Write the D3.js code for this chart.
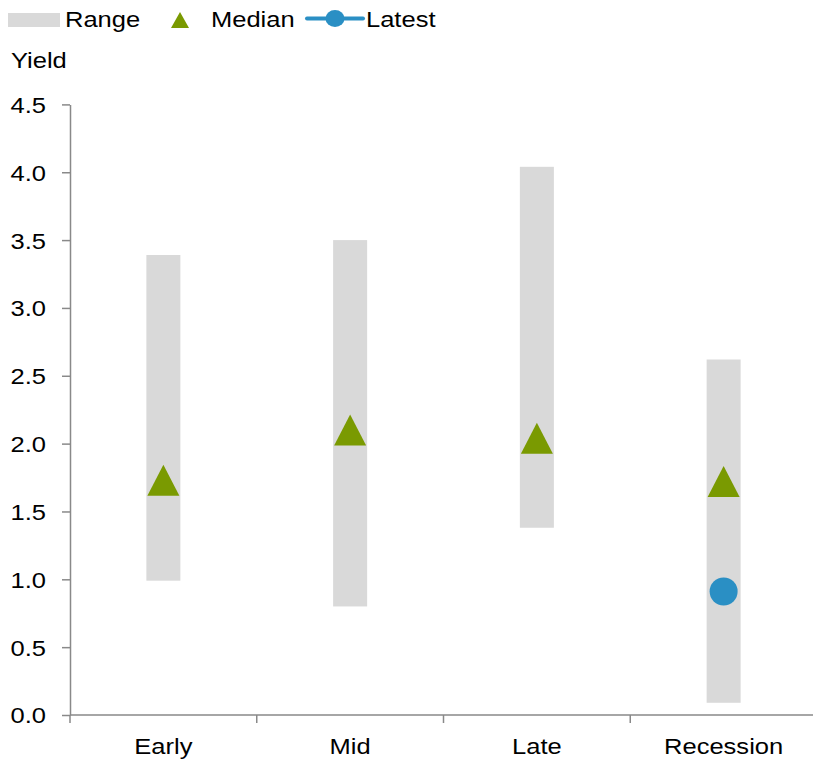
<!DOCTYPE html>
<html>
<head>
<meta charset="utf-8">
<script src="https://cdn.jsdelivr.net/npm/d3@7"></script>
<style>
  html, body { margin: 0; padding: 0; background: #fff; }
  svg { display: block; }
  text { font-family: "Liberation Sans", Arial, sans-serif; fill: #000; }
</style>
</head>
<body>
<svg id="chart" width="813" height="760"></svg>
<script>
// Yield by cycle phase: historical range, median and latest reading
const categories = ["Early", "Mid", "Late", "Recession"];
const rangeLow   = [0.99, 0.80, 1.38, 0.09];
const rangeHigh  = [3.39, 3.50, 4.04, 2.62];
const medianVals = [1.73, 2.10, 2.04, 1.72];
const latestVals = [null, null, null, 0.91];
const yTicks     = [0, 0.5, 1, 1.5, 2, 2.5, 3, 3.5, 4, 4.5];
const legendItems = ["Range", "Median", "Latest"];

const COLORS = { range: "#d9d9d9", median: "#7a9a01", latest: "#2a8fc4", axis: "#898989" };
const FONT = 22, STRETCH = 1.16;

const svg = d3.select("#chart");

const x = d3.scaleBand().domain(categories).range([70, 817]).paddingInner(0).paddingOuter(0);
const y = d3.scaleLinear().domain([0, 4.5]).range([715, 104.4]);

const widen = sel => sel.style("font-size", FONT + "px");

// Range bars
const barW = 34;
svg.append("g").selectAll("rect")
  .data(categories)
  .join("rect")
  .attr("x", (d) => x(d) + x.bandwidth() / 2 - barW / 2)
  .attr("width", barW)
  .attr("y", (d, i) => y(rangeHigh[i]))
  .attr("height", (d, i) => y(rangeLow[i]) - y(rangeHigh[i]))
  .attr("fill", COLORS.range);

// Y axis
const yAxis = svg.append("g")
  .attr("transform", "translate(70,0)")
  .call(d3.axisLeft(y).tickValues(yTicks).tickFormat(d3.format(".1f")).tickSize(8).tickSizeOuter(0));
yAxis.select(".domain").attr("stroke", COLORS.axis).attr("stroke-width", 1.5);
yAxis.selectAll(".tick line").attr("stroke", COLORS.axis).attr("stroke-width", 1.5);
yAxis.selectAll(".tick text")
  .attr("x", 0).attr("dy", "0.36em")
  .attr("transform", `translate(-24,0) scale(${STRETCH},1)`)
  .style("font-family", "'Liberation Sans', Arial, sans-serif")
  .call(widen);

// X axis: baseline, boundary ticks and centred labels
const xAxis = svg.append("g");
xAxis.append("line")
  .attr("x1", 70).attr("x2", 813).attr("y1", y(0)).attr("y2", y(0))
  .attr("stroke", COLORS.axis).attr("stroke-width", 1.5);
xAxis.selectAll("line.tk")
  .data(categories)
  .join("line")
  .attr("class", "tk")
  .attr("x1", d => x(d)).attr("x2", d => x(d))
  .attr("y1", y(0)).attr("y2", y(0) + 8)
  .attr("stroke", COLORS.axis).attr("stroke-width", 1.5);
xAxis.selectAll("text")
  .data(categories)
  .join("text")
  .attr("text-anchor", "middle")
  .attr("transform", d => `translate(${x(d) + x.bandwidth() / 2},754) scale(${STRETCH},1)`)
  .text(d => d)
  .call(widen);

// Median markers (triangles)
const triW = 32, triH = 31;
const tri = (w, h) => `M0,${-h / 2}L${w / 2},${h / 2}L${-w / 2},${h / 2}Z`;
svg.append("g").selectAll("path")
  .data(categories)
  .join("path")
  .attr("d", tri(triW, triH))
  .attr("transform", (d, i) => `translate(${x(d) + x.bandwidth() / 2},${y(medianVals[i])})`)
  .attr("fill", COLORS.median);

// Latest reading
svg.append("g").selectAll("circle")
  .data(categories.filter((d, i) => latestVals[i] != null))
  .join("circle")
  .attr("cx", d => x(d) + x.bandwidth() / 2)
  .attr("cy", d => y(latestVals[categories.indexOf(d)]))
  .attr("r", 14)
  .attr("fill", COLORS.latest);

// Axis title
svg.append("text")
  .attr("transform", `translate(11,68) scale(${STRETCH},1)`)
  .text("Yield")
  .call(widen);

// Legend
const lg = svg.append("g");
lg.append("rect").attr("x", 8).attr("y", 13).attr("width", 52).attr("height", 14).attr("fill", COLORS.range);
lg.append("text").attr("transform", `translate(65,27) scale(${STRETCH},1)`).text(legendItems[0]).call(widen);
lg.append("path").attr("d", tri(18, 16)).attr("transform", "translate(180,20)").attr("fill", COLORS.median);
lg.append("text").attr("transform", `translate(211,27) scale(${STRETCH},1)`).text(legendItems[1]).call(widen);
lg.append("line").attr("x1", 307).attr("x2", 363).attr("y1", 18.5).attr("y2", 18.5)
  .attr("stroke", COLORS.latest).attr("stroke-width", 4).attr("stroke-linecap", "round");
lg.append("ellipse").attr("cx", 335).attr("cy", 18.5).attr("rx", 9.5).attr("ry", 8.5).attr("fill", COLORS.latest);
lg.append("text").attr("transform", `translate(366,27) scale(${STRETCH},1)`).text(legendItems[2]).call(widen);
</script>
</body>
</html>
